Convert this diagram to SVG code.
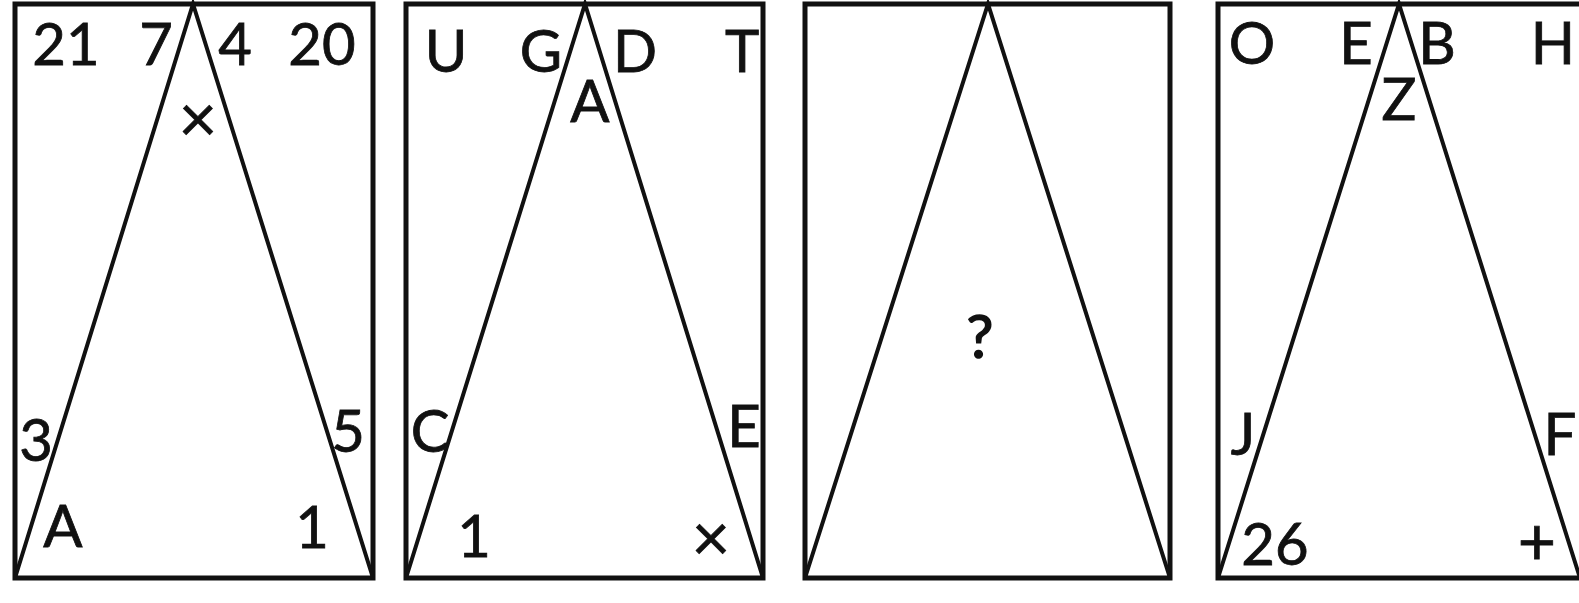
<svg xmlns="http://www.w3.org/2000/svg" width="1579" height="603" viewBox="0 0 1579 603">
<style>
.frame{fill:none;stroke:#111;stroke-width:5}
.edge{fill:none;stroke:#111;stroke-width:4;stroke-linecap:round}
text{font-family:Lato,"Open Sans","Liberation Sans",sans-serif;font-size:58px;fill:#111;stroke:#111;stroke-width:0.8;text-anchor:middle}
.sym{font-size:66px}
.q{font-size:60px;stroke-width:1.6}
</style>
<rect width="1579" height="603" fill="#fff"/>
<g id="panel1">
<rect class="frame" x="15" y="4" width="358" height="574"/>
<text x="66" y="65">21</text>
<text x="156" y="65">7</text>
<text x="235" y="65">4</text>
<text x="322" y="65">20</text>
<text class="sym" x="198" y="142">×</text>
<text x="36" y="461">3</text>
<text x="63" y="547">A</text>
<text x="348" y="452">5</text>
<text x="312" y="548">1</text>
</g>
<g id="panel2">
<rect class="frame" x="406" y="4" width="357" height="574"/>
<text x="446" y="72">U</text>
<text x="541" y="72">G</text>
<text x="635" y="72">D</text>
<text x="742" y="72">T</text>
<text x="590" y="122">A</text>
<text x="430" y="452">C</text>
<text x="744" y="447">E</text>
<text x="474" y="557">1</text>
<text class="sym" x="711" y="561">×</text>
</g>
<g id="panel3">
<rect class="frame" x="805" y="4" width="365" height="574"/>
<text class="q" x="980" y="358">?</text>
</g>
<g id="panel4">
<rect class="frame" x="1218" y="4" width="364" height="574"/>
<text x="1252" y="64">O</text>
<text x="1356" y="64">E</text>
<text x="1437" y="64">B</text>
<text x="1553" y="64">H</text>
<text x="1399" y="120">Z</text>
<text x="1243" y="455">J</text>
<text x="1560" y="455">F</text>
<text x="1275" y="565">26</text>
<text class="sym" x="1537" y="565">+</text>
</g>
<g id="connectors">
<polyline class="edge" points="15,578 193,4 373,578"/>
<polyline class="edge" points="406,578 585,4 763,578"/>
<polyline class="edge" points="805,578 988,4 1170,578"/>
<polyline class="edge" points="1218,578 1399,4 1580,578"/>
</g>
</svg>
